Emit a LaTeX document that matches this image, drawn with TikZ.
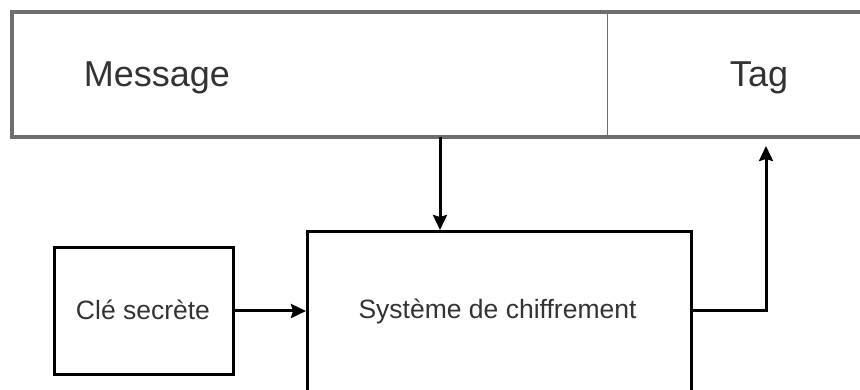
\documentclass[tikz,border=0pt]{standalone}
\usepackage{fontspec}
\setmainfont{Liberation Sans}
\usetikzlibrary{arrows.meta, positioning, calc}

\begin{document}
\begin{tikzpicture}[x=1pt, y=-1pt,
  frame/.style={draw=black!57, line width=4pt, anchor=north west, inner sep=0pt},
  box/.style={draw=black, line width=3pt, anchor=north west, inner sep=0pt},
  bigtxt/.style={font=\fontsize{36}{40}\selectfont, text=black!80, anchor=base, inner sep=0pt},
  smalltxt/.style={font=\fontsize{26.5}{30}\selectfont, text=black!80, anchor=base, inner sep=0pt},
  flow/.style={line width=3pt, -{Stealth[length=15pt, width=14pt, inset=2pt]}}]
\clip (0,0) rectangle (860,390);
% top field
\node[frame, minimum width=880pt, minimum height=125pt] (frame) at (10,10) {};
\draw[black!57, line width=1pt] ($(frame.north west)+(597,0)$) -- ($(frame.south west)+(597,0)$);
\node[bigtxt] (msg) at (157,87) {Message};
\node[bigtxt] (tag) at (759,87) {Tag};
% boxes
\node[box, minimum width=179pt, minimum height=127pt] (cle) at (53,246) {};
\node[smalltxt] (cletxt) at ($(cle.center)+(-1,8.5)$) {Clé secrète};
\node[box, minimum width=384pt, minimum height=200pt] (sys) at (306,230) {};
\node[smalltxt] (systxt) at ($(sys.north)+(-2,89)$) {Système de chiffrement};
% connectors
\coordinate (msgout) at (440,137);
\coordinate (tagin) at (766,146);
\draw[flow] (msgout) -- (msgout |- sys.north);
\draw[flow] (cle.east) -- (cle.east -| sys.west);
\draw[flow] (cle.east -| sys.east) -| (tagin);
\end{tikzpicture}
\end{document}
